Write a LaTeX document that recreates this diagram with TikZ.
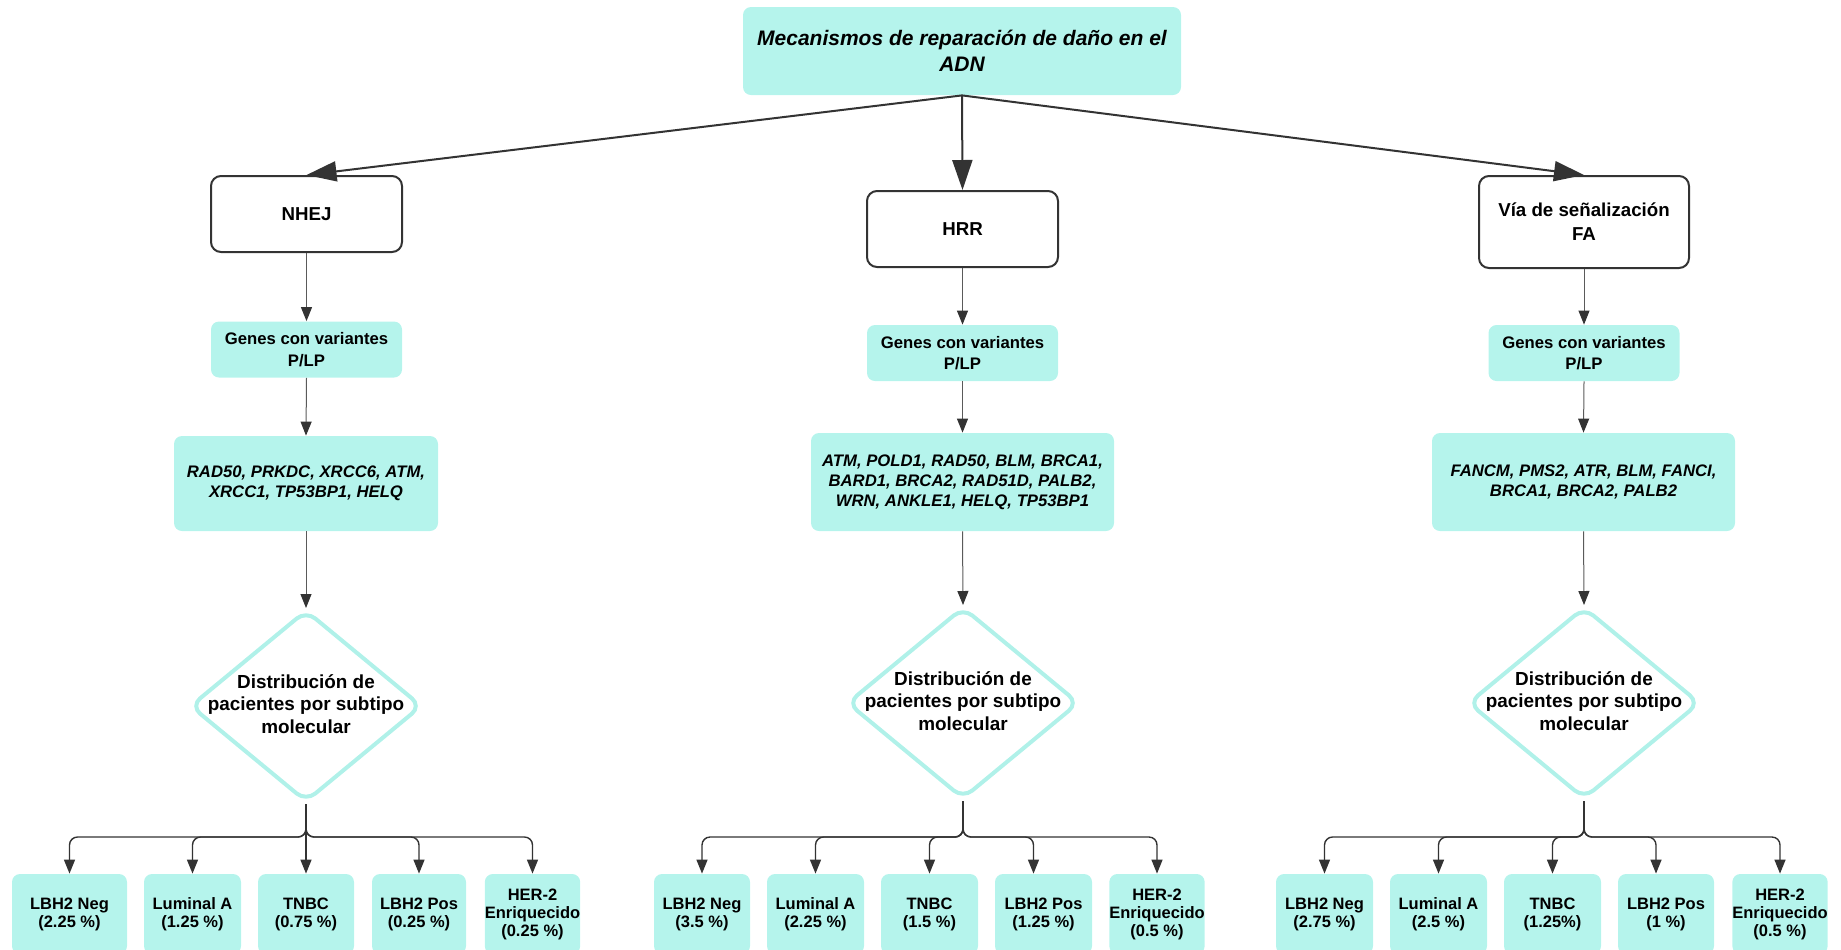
\documentclass[tikz,border=0pt]{standalone}
\usepackage{fontspec}
\setmainfont{Liberation Sans}
\usetikzlibrary{shapes.geometric,arrows.meta,calc}
\definecolor{aqua}{RGB}{181,244,236}
\definecolor{aquaedge}{RGB}{176,241,233}
\definecolor{ink}{HTML}{333333}
\definecolor{wire}{HTML}{5A5A5A}

\begin{document}
\begin{tikzpicture}[x=0.5pt,y=-0.5pt,
  titlebox/.style={fill=aqua, rounded corners=4pt, inner sep=0pt,
    minimum width=219pt, minimum height=44pt, align=center,
    font=\bfseries\itshape\fontsize{10.5pt}{13pt}\selectfont},
  pathbox/.style={fill=white, draw=ink, line width=1pt, rounded corners=5pt,
    inner sep=0pt, align=center,
    font=\bfseries\fontsize{9.35pt}{12pt}\selectfont},
  genebox/.style={fill=aqua, rounded corners=4pt, inner sep=0pt,
    minimum width=95.5pt, minimum height=28pt, align=center,
    font=\bfseries\fontsize{8.35pt}{10.85pt}\selectfont},
  listbox/.style={fill=aqua, rounded corners=4pt, inner sep=0pt, align=center,
    font=\bfseries\itshape\fontsize{8.35pt}{10pt}\selectfont},
  dmd/.style={diamond, draw=aquaedge, line width=2pt, rounded corners=6pt,
    inner sep=0pt, minimum width=116pt, minimum height=96pt},
  dtext/.style={align=center, inner sep=0pt,
    font=\bfseries\fontsize{9.45pt}{11.25pt}\selectfont},
  leaf/.style={fill=aqua, rounded corners=4pt, inner sep=0pt,
    minimum height=40pt, align=center,
    font=\bfseries\fontsize{8.25pt}{9pt}\selectfont},
  bigarrow/.style={draw=ink, line width=1pt,
    -{Triangle[length=15pt,width=10pt,color=ink]}},
  thinarrow/.style={draw=wire, line width=0.5pt,
    -{Triangle[length=7pt,width=5.5pt,color=ink]}},
  branch/.style={draw=ink, line width=0.7pt, rounded corners=4pt,
    -{Triangle[length=7pt,width=5.5pt,color=ink]}}
]
\useasboundingbox (0,0) rectangle (1841,949);

% title
\node[titlebox] (top) at (962,51) {Mecanismos de reparación de daño en el\\ADN};

% repair pathways
\node[pathbox, minimum width=95.5pt, minimum height=38pt] (nhej) at (306.5,214) {NHEJ};
\node[pathbox, minimum width=95.5pt, minimum height=38pt] (hrr) at (962.5,229) {HRR};
\node[pathbox, minimum width=105pt, minimum height=46pt] (fa) at (1584,222) {Vía de señalización\\FA};

\draw[bigarrow] (top.south) -- (nhej.north);
\draw[bigarrow] (top.south) -- (hrr.north);
\draw[bigarrow] (top.south) -- (fa.north);

% genes with P/LP variants
\node[genebox] (g1) at (306.5,349.5) {Genes con variantes\\P/LP};
\node[genebox] (g2) at (962.5,353) {Genes con variantes\\P/LP};
\node[genebox] (g3) at (1584,353) {Genes con variantes\\P/LP};

\node[listbox, minimum width=132pt, minimum height=47.5pt] (l1) at (306,483.5)
  {RAD50, PRKDC, XRCC6, ATM,\\XRCC1, TP53BP1, HELQ};
\node[listbox, minimum width=151.5pt, minimum height=49pt] (l2) at (962.5,482)
  {ATM, POLD1, RAD50, BLM, BRCA1,\\BARD1, BRCA2, RAD51D, PALB2,\\WRN, ANKLE1, HELQ, TP53BP1};
\node[listbox, minimum width=151.5pt, minimum height=49pt] (l3) at (1583.5,482)
  {FANCM, PMS2, ATR, BLM, FANCI,\\BRCA1, BRCA2, PALB2};

% decision diamonds
\node[dmd] (d1) at (306,706) {};
\node[dmd] (d2) at (963,703) {};
\node[dmd] (d3) at (1584,703) {};
\node[dtext] (t1) at (306,704) {Distribución de\\pacientes por subtipo\\molecular};
\node[dtext] (t2) at (963,701) {Distribución de\\pacientes por subtipo\\molecular};
\node[dtext] (t3) at (1584,701) {Distribución de\\pacientes por subtipo\\molecular};

\foreach \i in {1,2,3}{
  \draw[thinarrow] (\ifcase\i\or nhej\or hrr\or fa\fi.south) -- (g\i.north);
  \draw[thinarrow] (g\i.south) -- (l\i.north);
  \draw[thinarrow] (l\i.south) -- (d\i.north);
}

% molecular subtypes
\node[leaf, minimum width=57.5pt] (b11) at (69.5,914) {LBH2 Neg\\(2.25 \%)};
\node[leaf, minimum width=48.5pt] (b12) at (192.5,914) {Luminal A\\(1.25 \%)};
\node[leaf, minimum width=48pt]   (b13) at (306,914) {TNBC\\(0.75 \%)};
\node[leaf, minimum width=47pt]   (b14) at (419,914) {LBH2 Pos\\(0.25 \%)};
\node[leaf, minimum width=46.5pt] (b15) at (532.5,914) {HER-2\\Enriquecido\\(0.25 \%)};

\node[leaf, minimum width=48pt]   (b21) at (702,914) {LBH2 Neg\\(3.5 \%)};
\node[leaf, minimum width=48.5pt] (b22) at (815.5,914) {Luminal A\\(2.25 \%)};
\node[leaf, minimum width=48.5pt] (b23) at (929.5,914) {TNBC\\(1.5 \%)};
\node[leaf, minimum width=48.5pt] (b24) at (1043.5,914) {LBH2 Pos\\(1.25 \%)};
\node[leaf, minimum width=47pt]   (b25) at (1157,914) {HER-2\\Enriquecido\\(0.5 \%)};

\node[leaf, minimum width=48.5pt] (b31) at (1324.5,914) {LBH2 Neg\\(2.75 \%)};
\node[leaf, minimum width=48.5pt] (b32) at (1438.5,914) {Luminal A\\(2.5 \%)};
\node[leaf, minimum width=48.5pt] (b33) at (1552.5,914) {TNBC\\(1.25\%)};
\node[leaf, minimum width=48pt]   (b34) at (1666,914) {LBH2 Pos\\(1 \%)};
\node[leaf, minimum width=47pt]   (b35) at (1780,914) {HER-2\\Enriquecido\\(0.5 \%)};

% branching connectors
\coordinate (s1) at (306,837);
\coordinate (s2) at (963,837);
\coordinate (s3) at (1584,837);

\draw[branch] (d1.south) -- (s1) -| (b11.north);
\draw[branch] (d1.south) -- (s1) -| (b12.north);
\draw[branch] (d1.south) -- (b13.north);
\draw[branch] (d1.south) -- (s1) -| (b14.north);
\draw[branch] (d1.south) -- (s1) -| (b15.north);

\draw[branch] (d2.south) -- (s2) -| (b21.north);
\draw[branch] (d2.south) -- (s2) -| (b22.north);
\draw[branch] (d2.south) -- (s2) -| (b23.north);
\draw[branch] (d2.south) -- (s2) -| ([xshift=-5pt]b24.north);
\draw[branch] (d2.south) -- (s2) -| (b25.north);

\draw[branch] (d3.south) -- (s3) -| (b31.north);
\draw[branch] (d3.south) -- (s3) -| (b32.north);
\draw[branch] (d3.south) -- (s3) -| (b33.north);
\draw[branch] (d3.south) -- (s3) -| ([xshift=-5pt]b34.north);
\draw[branch] (d3.south) -- (s3) -| (b35.north);
\end{tikzpicture}
\end{document}
